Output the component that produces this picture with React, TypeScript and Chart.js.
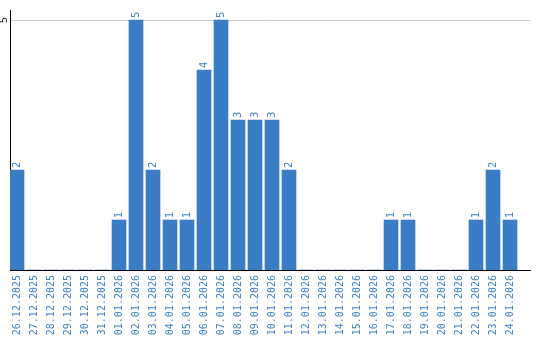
import React, { useEffect, useRef } from "react";
import { Chart, registerables } from "chart.js";

Chart.register(...registerables);

const dateLabels: string[] = [
  "26.12.2025", "27.12.2025", "28.12.2025", "29.12.2025", "30.12.2025", "31.12.2025",
  "01.01.2026", "02.01.2026", "03.01.2026", "04.01.2026", "05.01.2026", "06.01.2026",
  "07.01.2026", "08.01.2026", "09.01.2026", "10.01.2026", "11.01.2026", "12.01.2026",
  "13.01.2026", "14.01.2026", "15.01.2026", "16.01.2026", "17.01.2026", "18.01.2026",
  "19.01.2026", "20.01.2026", "21.01.2026", "22.01.2026", "23.01.2026", "24.01.2026",
];

const counts: number[] = [
  2, 0, 0, 0, 0, 0,
  1, 5, 2, 1, 1, 4,
  5, 3, 3, 3, 2, 0,
  0, 0, 0, 0, 1, 1,
  0, 0, 0, 1, 2, 1,
];

const yTickValues: number[] = [5];

const BAR_COLOR = "#3b7dc4";
const TEXT_COLOR = "#3f80c6";

const valueLabelPlugin = {
  id: "valueLabels",
  afterDatasetsDraw(chart: any) {
    const ctx = chart.ctx;
    const meta = chart.getDatasetMeta(0);
    ctx.save();
    ctx.fillStyle = TEXT_COLOR;
    ctx.font = "10px 'DejaVu Sans'";
    meta.data.forEach((bar: any, i: number) => {
      const v = counts[i];
      if (!v) return;
      ctx.save();
      ctx.translate(bar.x, bar.y - 2);
      ctx.rotate(-Math.PI / 2);
      ctx.textAlign = "left";
      ctx.textBaseline = "middle";
      ctx.fillText(String(v), 0, 0);
      ctx.restore();
    });
    const yScale = chart.scales.y;
    ctx.fillStyle = "#222";
    yTickValues.forEach((t) => {
      const py = yScale.getPixelForValue(t);
      ctx.save();
      ctx.translate(yScale.left + 4, py);
      ctx.rotate(-Math.PI / 2);
      ctx.textAlign = "center";
      ctx.textBaseline = "middle";
      ctx.fillText(String(t), 0, 0);
      ctx.restore();
    });
    ctx.restore();
  },
};

export default function App() {
  const canvasRef = useRef<HTMLCanvasElement | null>(null);

  useEffect(() => {
    if (!canvasRef.current) return;
    const stepPx = 17;
    const areaWidth = 520;
    const xMin = -7 / stepPx;
    const xMax = xMin + areaWidth / stepPx;
    const chart = new Chart(canvasRef.current, {
      type: "bar",
      data: {
        datasets: [
          {
            data: counts.map((v, i) => ({ x: i, y: v })),
            backgroundColor: BAR_COLOR,
            borderWidth: 0,
            barThickness: 14,
          },
        ],
      },
      options: {
        responsive: false,
        animation: false,
        devicePixelRatio: 1,
        layout: { padding: { top: 10, right: 10, left: 0, bottom: 0 } },
        plugins: {
          legend: { display: false },
          tooltip: { enabled: false },
        },
        scales: {
          x: {
            type: "linear",
            bounds: "data",
            offset: false,
            min: xMin,
            max: xMax,
            afterBuildTicks: (scale: any) => {
              scale.ticks = dateLabels.map((_, i) => ({ value: i }));
            },
            afterFit: (scale: any) => {
              scale.height = 70;
            },
            grid: { display: true, offset: false, color: "rgba(0,0,0,0)", drawTicks: false },
            border: { display: true, color: "#000", width: 1 },
            ticks: {
              autoSkip: false,
              minRotation: 90,
              maxRotation: 90,
              padding: 5,
              color: TEXT_COLOR,
              font: { family: "'DejaVu Sans Mono'", size: 10 },
              callback: (value: any) => dateLabels[Math.round(Number(value))] ?? "",
            },
          },
          y: {
            min: 0,
            max: 5.2,
            afterBuildTicks: (scale: any) => {
              scale.ticks = yTickValues.map((v) => ({ value: v }));
            },
            afterFit: (scale: any) => {
              scale.width = 10;
            },
            grid: { color: "#cccccc", drawTicks: false, lineWidth: 1 },
            border: { display: true, color: "#000", width: 1 },
            ticks: { display: false },
          },
        },
      },
      plugins: [valueLabelPlugin],
    });
    return () => chart.destroy();
  }, []);

  return (
    <div style={{ position: "absolute", left: 0, top: 0, width: 540, height: 340, background: "#fff" }}>
      <canvas ref={canvasRef} width={540} height={340} />
    </div>
  );
}
